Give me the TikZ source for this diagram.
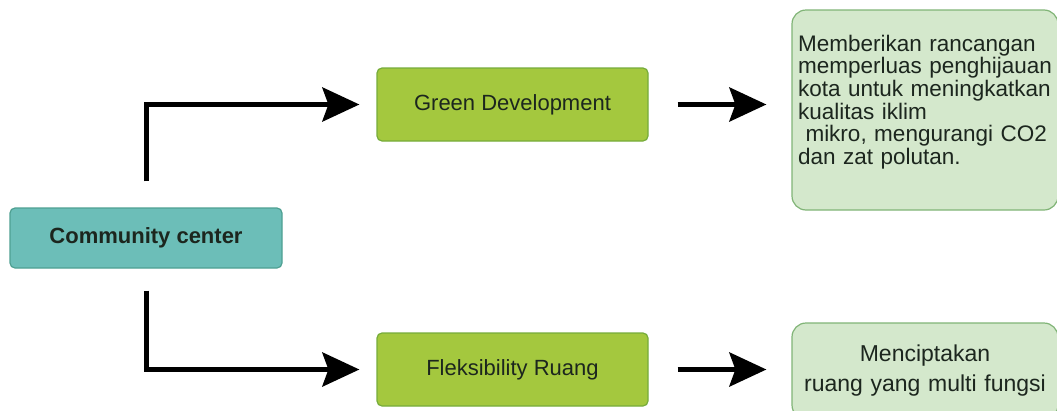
\documentclass[tikz,border=0pt]{standalone}
\usepackage{fontspec}
\setmainfont{Liberation Sans}
\usetikzlibrary{arrows.meta}
\definecolor{ccfill}{RGB}{108,190,184}
\definecolor{ccline}{RGB}{78,160,146}
\definecolor{idfill}{RGB}{164,200,62}
\definecolor{idline}{RGB}{118,172,58}
\definecolor{ntfill}{RGB}{212,232,204}
\definecolor{ntline}{RGB}{128,180,118}
\definecolor{txt}{RGB}{28,38,30}
\begin{document}
\begin{tikzpicture}[x=1pt,y=-1pt,
box/.style={draw, line width=1.2pt, rounded corners=5pt, text=txt, font=\fontsize{22}{22.6}\selectfont},
center box/.style={box, fill=ccfill, draw=ccline, minimum width=272pt, minimum height=60pt, font=\fontsize{22}{22.6}\selectfont\bfseries},
idea/.style={box, fill=idfill, draw=idline, minimum width=271pt, minimum height=73pt},
note/.style={box, fill=ntfill, draw=ntline, rounded corners=14pt, inner xsep=6pt},
link/.style={line width=5pt, -{Stealth[length=37pt,width=34pt,inset=6pt]}},]
\useasboundingbox (0,0) rectangle (1057,410);
\clip (0,0) rectangle (1057,410);
\node[center box] (cc) at (146,238) {Community center};
\node[idea] (gd) at (512.5,104.5) {Green Development};
\node[idea] (fr) at (512.5,369.5) {Fleksibility Ruang};
\node[note, text width=254pt, align=left, minimum height=200pt, font=\fontsize{22.5}{22.7}\selectfont] (gdnote) at (925,110)
    {Memberikan rancangan\\ memperluas penghijauan\\ kota untuk meningkatkan\\ kualitas iklim\\ \ mikro, mengurangi CO2\\ dan zat polutan.\par\vspace*{16pt}};
\node[note, text width=254pt, align=center, minimum height=96pt, font=\fontsize{23}{30}\selectfont] (frnote) at (925,371)
    {Menciptakan\\ ruang yang multi fungsi};

\draw[link, shorten >=17pt] ([yshift=26pt]cc.north) |- (gd.west);
\draw[link, shorten >=17pt] ([yshift=-22pt]cc.south) |- (fr.west);
\draw[link, shorten <=29pt, shorten >=25pt] (gd.east) -- (gd.east -| gdnote.west);
\draw[link, shorten <=29pt, shorten >=25pt] (fr.east) -- (fr.east -| frnote.west);
\end{tikzpicture}
\end{document}
